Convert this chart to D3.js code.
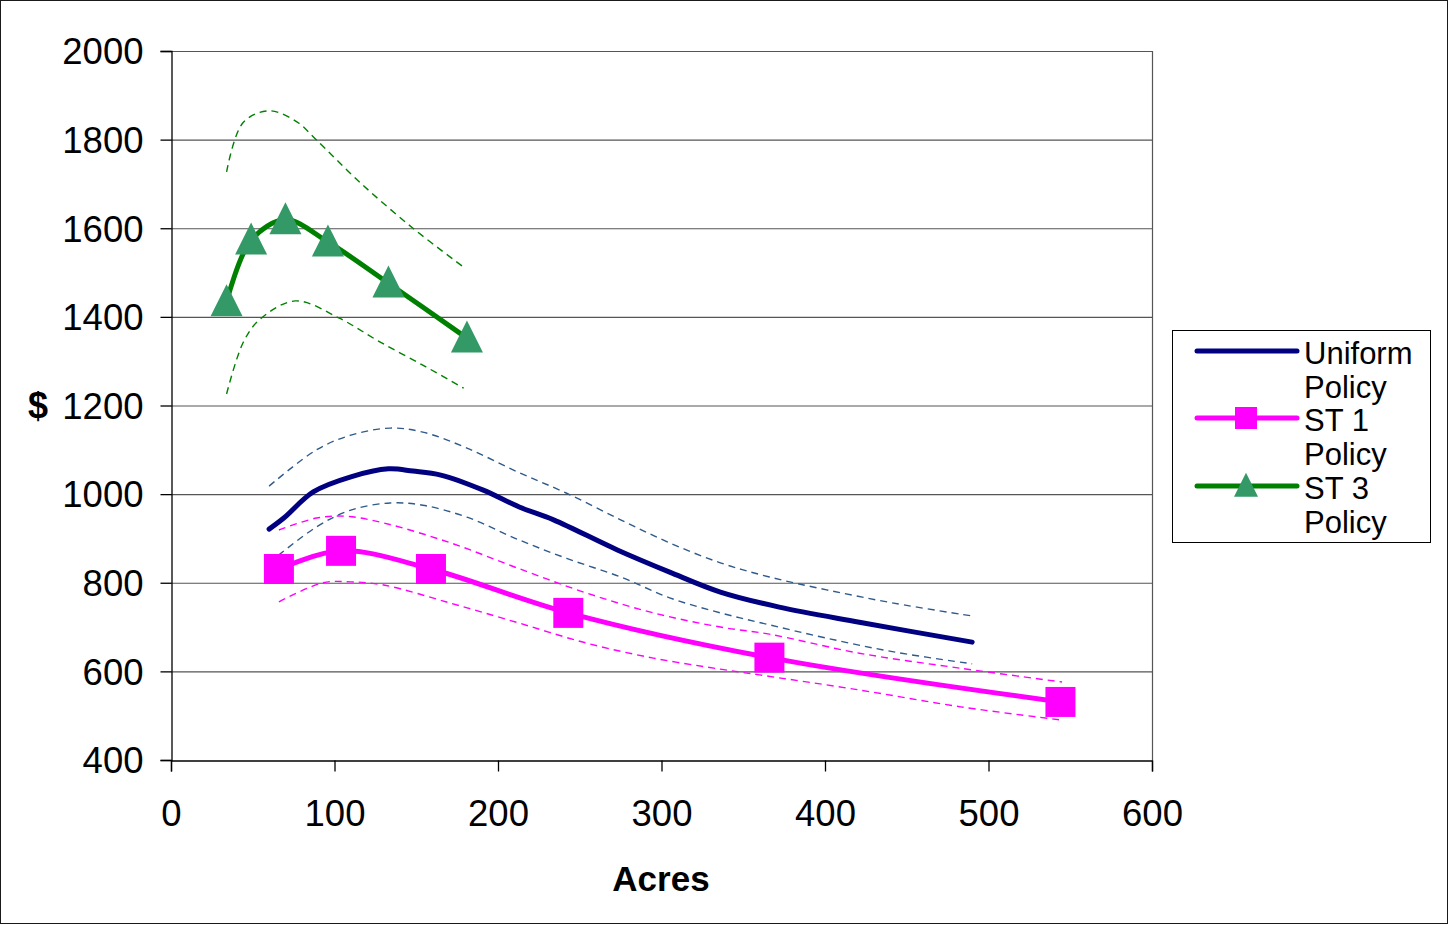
<!DOCTYPE html>
<html>
<head>
<meta charset="utf-8">
<script src="https://cdn.jsdelivr.net/npm/d3@7"></script>
<style>
  html, body { margin: 0; padding: 0; background: #fff; }
  svg { display: block; font-family: "Liberation Sans", Arial, sans-serif; }
</style>
</head>
<body>
<svg id="chart" width="1449" height="925"></svg>
<script>
// ---- Data ----
const xTicks = [0, 100, 200, 300, 400, 500, 600];
const yTicks = [400, 600, 800, 1000, 1200, 1400, 1600, 1800, 2000];

const uniformX = [60, 69, 87, 110, 133, 148, 165, 191, 213, 234, 273, 305, 336, 372, 421, 490];
const uniformY = [921, 946, 1005, 1039, 1057, 1052, 1043, 1009, 971, 942, 874, 824, 779, 745, 711, 666];
const uniformBandX = [60, 89, 110, 134, 154, 181, 212, 242, 275, 305, 336, 366, 401, 442, 490];
const uniformUpper = [1018, 1100, 1133, 1149, 1140, 1104, 1050, 1002, 942, 890, 845, 813, 784, 754, 725];
const uniformLower = [845, 926, 964, 980, 975, 948, 898, 855, 813, 766, 732, 705, 675, 644, 617];

const st1X = [66, 104, 159, 243, 366, 544];
const st1Y = [831, 872, 831, 732, 631, 531];
const st1UpperX = [66, 89, 107, 130, 171, 212, 254, 295, 336, 366, 421, 483, 545];
const st1Upper = [919, 946, 950, 935, 890, 833, 777, 732, 700, 684, 641, 607, 576];
const st1LowerX = [66, 93, 110, 130, 171, 212, 254, 295, 336, 360, 421, 483, 545];
const st1Lower = [757, 800, 802, 795, 754, 710, 664, 630, 605, 592, 558, 520, 490];

const st3X = [34, 49, 70, 96, 133, 181];
const st3Y = [1434, 1573, 1619, 1569, 1476, 1352];
const st3UpperX = [34, 44, 60, 77, 89, 116, 148, 178];
const st3Upper = [1727, 1838, 1865, 1840, 1799, 1702, 1600, 1515];
const st3LowerX = [34, 44, 54, 76, 103, 128, 156, 179];
const st3Lower = [1226, 1341, 1393, 1436, 1397, 1343, 1287, 1239];

const legendLabels = [["Uniform", "Policy"], ["ST 1", "Policy"], ["ST 3", "Policy"]];

// ---- Layout ----
const svg = d3.select("#chart");
const W = 1449, H = 925;
const plot = { left: 171, right: 1152, top: 51, bottom: 760 };

const x = d3.scaleLinear().domain([0, 600]).range([plot.left, plot.right]);
const y = d3.scaleLinear().domain([400, 2000]).range([plot.bottom, plot.top]);

// outer border
svg.append("rect").attr("x", 0.5).attr("y", 0.5).attr("width", W - 2).attr("height", H - 2)
  .attr("fill", "#fff").attr("stroke", "#1a1a1a").attr("stroke-width", 1);

// gridlines
svg.append("g").selectAll("line").data(yTicks.filter(d => d !== 400)).join("line")
  .attr("x1", plot.left).attr("x2", plot.right)
  .attr("y1", d => y(d) + 0.5).attr("y2", d => y(d) + 0.5)
  .attr("stroke", "#555").attr("stroke-width", 1.2);

// right border of plot area
svg.append("line").attr("x1", plot.right + 0.5).attr("x2", plot.right + 0.5)
  .attr("y1", plot.top).attr("y2", plot.bottom).attr("stroke", "#555").attr("stroke-width", 1.2);

// axes
const yAxis = d3.axisLeft(y).tickValues(yTicks).tickSize(11).tickPadding(17).tickFormat(d3.format("d"));
const gy = svg.append("g").attr("transform", `translate(${plot.left + 0.5},0)`).call(yAxis);
gy.select(".domain").attr("stroke", "#000").attr("stroke-width", 1.3);
gy.selectAll(".tick line").attr("stroke", "#000").attr("stroke-width", 1.3);
gy.selectAll(".tick text").attr("font-size", 36.5).attr("fill", "#000")
  .attr("font-family", "Liberation Sans, Arial, sans-serif").attr("dy", "0.35em");

const xAxis = d3.axisBottom(x).tickValues(xTicks).tickSize(11).tickPadding(29).tickFormat(d3.format("d"));
const gx = svg.append("g").attr("transform", `translate(0,${plot.bottom + 0.5})`).call(xAxis);
gx.select(".domain").attr("stroke", "#000").attr("stroke-width", 1.3);
gx.selectAll(".tick line").attr("stroke", "#000").attr("stroke-width", 1.3);
gx.selectAll(".tick text").attr("font-size", 36.5).attr("fill", "#000")
  .attr("font-family", "Liberation Sans, Arial, sans-serif");

// axis titles
svg.append("text").attr("x", 38).attr("y", 418).attr("text-anchor", "middle")
  .attr("font-size", 36).attr("font-weight", "bold").text("$");
svg.append("text").attr("x", 661).attr("y", 891).attr("text-anchor", "middle")
  .attr("font-size", 35).attr("font-weight", "bold").text("Acres");

// ---- Series ----
const line = d3.line().x(d => x(d[0])).y(d => y(d[1])).curve(d3.curveCatmullRom.alpha(0.5));
const zip = (xs, ys) => xs.map((v, i) => [v, ys[i]]);

const dashed = [
  { pts: zip(uniformBandX, uniformUpper), color: "#2f5b8c" },
  { pts: zip(uniformBandX, uniformLower), color: "#2f5b8c" },
  { pts: zip(st1UpperX, st1Upper), color: "#ff00ff" },
  { pts: zip(st1LowerX, st1Lower), color: "#ff00ff" },
  { pts: zip(st3UpperX, st3Upper), color: "#008000" },
  { pts: zip(st3LowerX, st3Lower), color: "#008000" }
];
svg.append("g").selectAll("path").data(dashed).join("path")
  .attr("d", d => line(d.pts)).attr("fill", "none")
  .attr("stroke", d => d.color).attr("stroke-width", 1.4).attr("stroke-dasharray", "7,5");

const mainSeries = [
  { pts: zip(uniformX, uniformY), color: "#000080", marker: null },
  { pts: zip(st1X, st1Y), color: "#ff00ff", marker: "square", mcolor: "#ff00ff" },
  { pts: zip(st3X, st3Y), color: "#008000", marker: "triangle", mcolor: "#339966" }
];
svg.append("g").selectAll("path").data(mainSeries).join("path")
  .attr("d", d => line(d.pts)).attr("fill", "none")
  .attr("stroke", d => d.color).attr("stroke-width", 5)
  .attr("stroke-linecap", "round").attr("stroke-linejoin", "round");

function markerPath(type, s) {
  if (type === "square") return `M${-s / 2},${-s / 2}h${s}v${s}h${-s}Z`;
  const h = s;
  return `M0,${-h * 0.55}L${s / 2},${h * 0.45}L${-s / 2},${h * 0.45}Z`;
}

mainSeries.filter(d => d.marker).forEach(s => {
  svg.append("g").selectAll("path").data(s.pts).join("path")
    .attr("transform", d => `translate(${x(d[0])},${y(d[1])})`)
    .attr("d", markerPath(s.marker, s.marker === "square" ? 30 : 32))
    .attr("fill", s.mcolor);
});

// ---- Legend ----
const lg = svg.append("g");
lg.append("rect").attr("x", 1172.5).attr("y", 330.5).attr("width", 258).attr("height", 212)
  .attr("fill", "#fff").attr("stroke", "#000").attr("stroke-width", 1);
const lineYs = [351, 418, 486];
mainSeries.forEach((s, i) => {
  const ly = lineYs[i];
  lg.append("line").attr("x1", 1197).attr("x2", 1297).attr("y1", ly).attr("y2", ly)
    .attr("stroke", s.color).attr("stroke-width", 5).attr("stroke-linecap", "round");
  if (s.marker) {
    lg.append("path").attr("transform", `translate(1246,${ly})`)
      .attr("d", markerPath(s.marker, s.marker === "square" ? 22 : 24)).attr("fill", s.mcolor);
  }
  legendLabels[i].forEach((t, j) => {
    lg.append("text").attr("x", 1304).attr("y", ly + 13 + j * 34)
      .attr("font-size", 31).attr("fill", "#000").text(t);
  });
});
</script>
</body>
</html>
